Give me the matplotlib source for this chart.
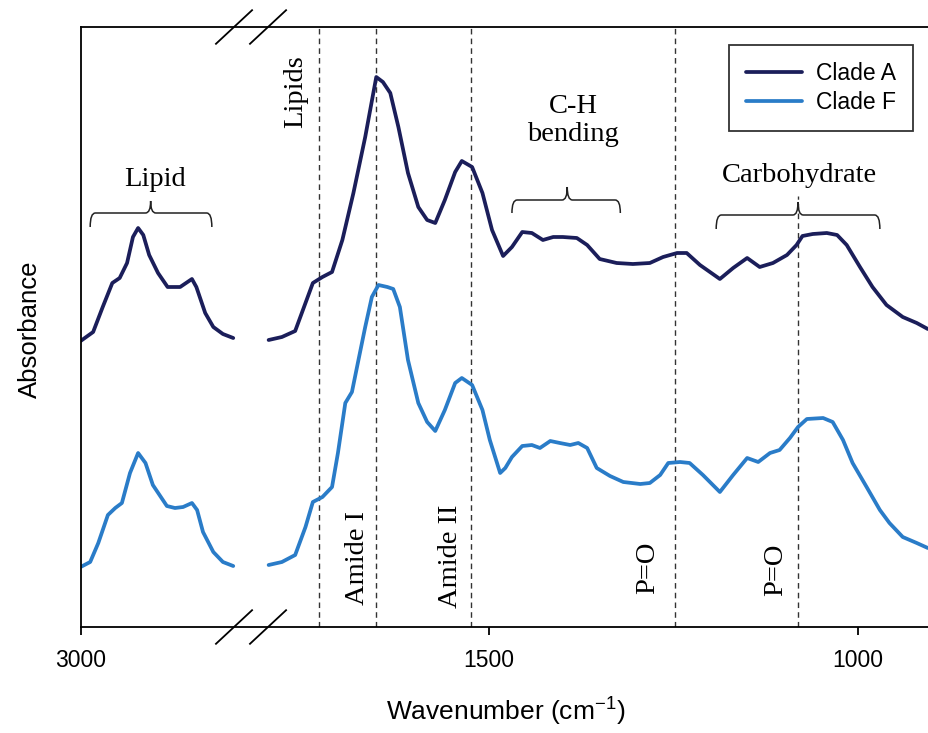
import numpy as np
import matplotlib
matplotlib.use("Agg")
import matplotlib.pyplot as plt
from matplotlib.path import Path
from matplotlib.patches import PathPatch

plt.rcParams["mathtext.fontset"] = "custom"
plt.rcParams["mathtext.rm"] = "Liberation Sans"
plt.rcParams["mathtext.default"] = "regular"

# ---- spectra: C-H stretching region (left panel) ----
wn_lipid_A = [3000, 2983, 2970, 2957, 2947, 2937, 2929, 2922, 2915, 2907, 2895,
              2882, 2865, 2849, 2843, 2831, 2820, 2807, 2793]
abs_lipid_A = [0.572, 0.590, 0.640, 0.688, 0.698, 0.728, 0.780, 0.798, 0.784, 0.744, 0.708,
               0.680, 0.680, 0.696, 0.680, 0.628, 0.600, 0.586, 0.578]

wn_lipid_F = [3000, 2987, 2976, 2963, 2953, 2944, 2933, 2922, 2912, 2902, 2883,
              2872, 2861, 2849, 2842, 2834, 2820, 2807, 2793]
abs_lipid_F = [0.120, 0.130, 0.168, 0.224, 0.238, 0.248, 0.308, 0.348, 0.328, 0.284, 0.242,
               0.238, 0.240, 0.248, 0.234, 0.190, 0.150, 0.130, 0.122]

# ---- spectra: fingerprint region (right panel) ----
wn_fp_A = [1799, 1781, 1763, 1749, 1739, 1726, 1713, 1699, 1684, 1668, 1653, 1644, 1634,
           1623, 1610, 1596, 1584, 1573, 1560, 1546, 1537, 1523, 1509, 1496, 1481, 1469,
           1455, 1442, 1427, 1413, 1400, 1381, 1367, 1350, 1327, 1305, 1282, 1264, 1245,
           1232, 1214, 1187, 1169, 1150, 1133, 1115, 1096, 1083, 1075, 1061, 1042, 1028,
           1015, 997, 980, 961, 939, 920, 905]
abs_fp_A = [0.574, 0.580, 0.592, 0.648, 0.688, 0.700, 0.710, 0.774, 0.868, 0.980, 1.100,
            1.090, 1.068, 1.000, 0.908, 0.840, 0.814, 0.808, 0.854, 0.910, 0.932, 0.920,
            0.868, 0.794, 0.742, 0.760, 0.790, 0.788, 0.774, 0.780, 0.780, 0.778, 0.764,
            0.736, 0.728, 0.726, 0.728, 0.740, 0.748, 0.748, 0.724, 0.696, 0.718, 0.738,
            0.720, 0.728, 0.744, 0.764, 0.782, 0.786, 0.788, 0.784, 0.764, 0.720, 0.680,
            0.644, 0.620, 0.608, 0.596]

wn_fp_F = [1799, 1781, 1763, 1749, 1739, 1726, 1713, 1705, 1695, 1686, 1678, 1668, 1659,
           1650, 1638, 1630, 1621, 1610, 1596, 1584, 1573, 1560, 1546, 1537, 1523, 1509,
           1499, 1485, 1478, 1469, 1455, 1442, 1431, 1417, 1404, 1390, 1379, 1367, 1354,
           1336, 1318, 1295, 1282, 1268, 1257, 1241, 1228, 1210, 1187, 1169, 1150, 1135,
           1119, 1106, 1092, 1081, 1069, 1047, 1034, 1020, 1007, 988, 970, 957, 939, 920, 905]
abs_fp_F = [0.124, 0.130, 0.144, 0.200, 0.250, 0.260, 0.280, 0.348, 0.448, 0.470, 0.528,
            0.600, 0.660, 0.684, 0.680, 0.676, 0.640, 0.534, 0.448, 0.410, 0.392, 0.434,
            0.488, 0.498, 0.484, 0.434, 0.374, 0.308, 0.318, 0.340, 0.362, 0.364, 0.358,
            0.372, 0.368, 0.364, 0.368, 0.358, 0.318, 0.302, 0.290, 0.286, 0.288, 0.304,
            0.328, 0.330, 0.328, 0.304, 0.270, 0.304, 0.338, 0.330, 0.348, 0.354, 0.378,
            0.400, 0.416, 0.418, 0.410, 0.374, 0.328, 0.280, 0.234, 0.208, 0.180, 0.168, 0.158]

# band assignments (dashed guides)
band_positions = [1730, 1654, 1524, 1248, 1081]
tick_values = [3000, 1500, 1000]
tick_labels = ["3000", "1500", "1000"]
series_names = ["Clade A", "Clade F"]
series_colors = ["#1b1e5a", "#2a7cc8"]

# ---- broken wavenumber axis: the 1822-2769 cm-1 range is squeezed out ----
GAP_W = [0, 1822, 2769, 5000]
GAP_X = [0, 1822, 1823, 1823 + (5000 - 2769)]


def fwd(w):
    return np.interp(np.asarray(w, dtype=float), GAP_W, GAP_X)


def inv(x):
    return np.interp(np.asarray(x, dtype=float), GAP_X, GAP_W)


W, H = 929, 733
fig = plt.figure(figsize=(W / 100, H / 100), dpi=100)
ax = fig.add_axes([80.6 / W, (H - 627) / H, 859 / W, 600 / H])
ax.set_xscale("function", functions=(fwd, inv))
ax.set_xlim(3000, 889)
ax.set_ylim(0, 1.2)

lw = 2.7
ax.plot(wn_lipid_A, abs_lipid_A, color=series_colors[0], lw=lw,
        solid_capstyle="round", solid_joinstyle="round", label=series_names[0])
ax.plot(wn_fp_A, abs_fp_A, color=series_colors[0], lw=lw,
        solid_capstyle="round", solid_joinstyle="round")
ax.plot(wn_lipid_F, abs_lipid_F, color=series_colors[1], lw=lw,
        solid_capstyle="round", solid_joinstyle="round", label=series_names[1])
ax.plot(wn_fp_F, abs_fp_F, color=series_colors[1], lw=lw,
        solid_capstyle="round", solid_joinstyle="round")

# dashed band guides
guide_tops = [1.2, 1.2, 1.2, 1.2, 0.862]
for b, top in zip(band_positions, guide_tops):
    ax.plot([b, b], [0, top], color="#333333", lw=1.0, dashes=(4, 3), zorder=1)

# spines and ticks
for s in ax.spines.values():
    s.set_linewidth(1.3)
    s.set_color("black")
ax.set_yticks([])
ax.set_xticks(tick_values)
ax.set_xticklabels(tick_labels)
ax.tick_params(axis="x", direction="out", length=6, width=1.3, pad=10,
               labelsize=16.5, labelfontfamily="Liberation Sans")

ax.set_xlabel("Wavenumber (cm$^{-1}$)", fontsize=19, family="Liberation Sans", va="center")
ax.xaxis.set_label_coords(0.495, -0.142)
ax.set_ylabel("Absorbance", fontsize=18.5, family="Liberation Sans", va="center")
ax.yaxis.set_label_coords(-0.059, 0.497)

# axis-break marks
for xc in (0.1786, 0.2182):
    for yc in (0.0, 1.0):
        ax.plot([xc - 0.021, xc + 0.021], [yc - 0.028, yc + 0.028], color="black",
                lw=1.3, transform=ax.transAxes, clip_on=False)


def brace(x0, x1, xc, y_h, y_end, y_tip, r=7):
    verts = [(x0, y_end), (x0, y_h), (x0 - r, y_h),
             (xc + r, y_h), (xc, y_h), (xc, y_tip),
             (xc, y_h), (xc - r, y_h),
             (x1 + r, y_h), (x1, y_h), (x1, y_end)]
    codes = [Path.MOVETO, Path.CURVE3, Path.CURVE3,
             Path.LINETO, Path.CURVE3, Path.CURVE3,
             Path.CURVE3, Path.CURVE3,
             Path.LINETO, Path.CURVE3, Path.CURVE3]
    ax.add_patch(PathPatch(Path(verts, codes), fill=False, lw=1.1, ec="#222222"))


brace(2987, 2822, 2905, 0.828, 0.800, 0.852)
brace(1469, 1322, 1394, 0.854, 0.828, 0.880)
brace(1192, 970, 1081, 0.824, 0.796, 0.850)

serif = "Liberation Serif"
fs = 20.5
ax.text(2899, 0.894, "Lipid", family=serif, fontsize=fs, ha="center", va="center")
ax.text(1386, 1.013, "C-H\nbending", family=serif, fontsize=fs, ha="center", va="center",
        linespacing=1.15)
ax.text(1079, 0.904, "Carbohydrate", family=serif, fontsize=fs, ha="center", va="center")
ax.text(1763, 1.07, "Lipids", family=serif, fontsize=fs, ha="center", va="center", rotation=90)
ax.text(1679, 0.138, "Amide I", family=serif, fontsize=fs, ha="center", va="center", rotation=90)
ax.text(1553, 0.142, "Amide II", family=serif, fontsize=fs, ha="center", va="center", rotation=90)
ax.text(1285, 0.118, "P=O", family=serif, fontsize=fs, ha="center", va="center", rotation=90)
ax.text(1112, 0.114, "P=O", family=serif, fontsize=fs, ha="center", va="center", rotation=90)

leg = ax.legend(loc="upper right", bbox_to_anchor=(913 / W, 1 - 45 / H),
                bbox_transform=fig.transFigure, borderaxespad=0, fancybox=False,
                frameon=True, prop={"family": "Liberation Sans", "size": 16.5},
                handlelength=2.45, handletextpad=0.6, labelspacing=0.25, borderpad=0.75)
leg.get_frame().set_edgecolor("black")
leg.get_frame().set_linewidth(1.3)

fig.savefig("out.png", dpi=100)
